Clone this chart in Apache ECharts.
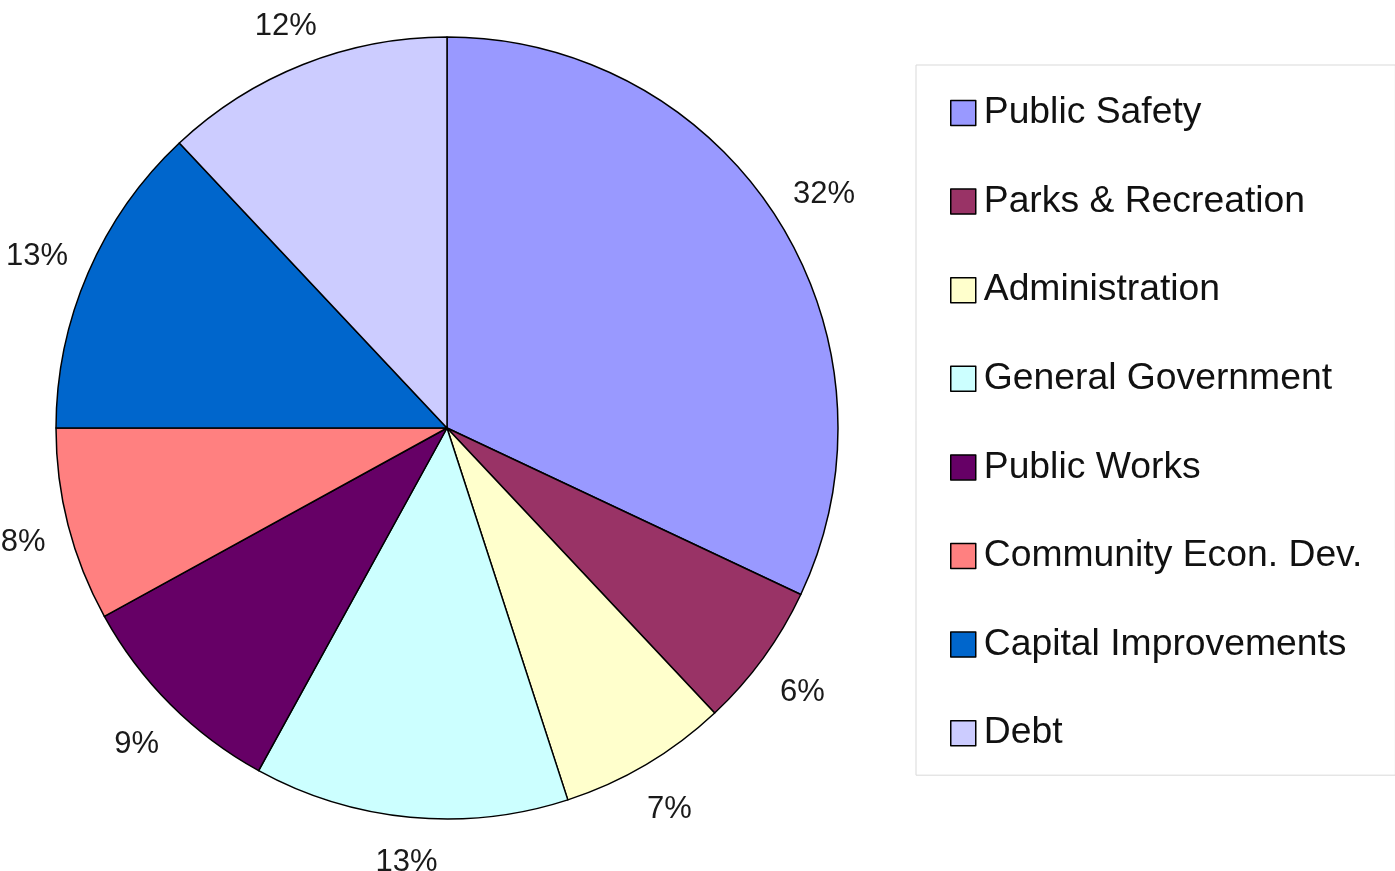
<!DOCTYPE html>
<html>
<head>
<meta charset="utf-8">
<script src="https://cdn.jsdelivr.net/npm/echarts@6/dist/echarts.min.js"></script>
<style>
  html, body { margin: 0; padding: 0; background: #fff; }
  #chart { width: 1395px; height: 871px; }
</style>
</head>
<body>
<div id="chart"></div>
<script>
// Budget share by department (percent)
const categories = [
  'Public Safety',
  'Parks & Recreation',
  'Administration',
  'General Government',
  'Public Works',
  'Community Econ. Dev.',
  'Capital Improvements',
  'Debt'
];
const shares = [32, 6, 7, 13, 9, 8, 13, 12];
const colors = ['#9999FF', '#993366', '#FFFFCC', '#CCFFFF', '#660066', '#FF8080', '#0066CC', '#CCCCFF'];

const FONT = '"Liberation Sans", Arial, Helvetica, sans-serif';
const LABEL_GAP = 21;
const LABEL_DROP = 6;

const chart = echarts.init(document.getElementById('chart'), null, { renderer: 'canvas' });

chart.setOption({
  backgroundColor: '#ffffff',
  animation: false,
  legend: {
    orient: 'vertical',
    left: 916,
    top: 65,
    padding: [28, 33, 22, 34],
    backgroundColor: '#ffffff',
    borderColor: '#d9d9d9',
    borderWidth: 1,
    icon: 'rect',
    itemWidth: 25,
    itemHeight: 25,
    itemGap: 48.6,
    itemStyle: { borderColor: '#000', borderWidth: 1.5 },
    textStyle: {
      fontFamily: FONT,
      fontSize: 37.3,
      lineHeight: 40,
      color: '#111',
      padding: [0, 0, 0, 3]
    },
    data: categories
  },
  series: [{
    type: 'pie',
    center: [447, 428],
    radius: 391,
    startAngle: 90,
    clockwise: true,
    avoidLabelOverlap: false,
    silent: true,
    itemStyle: { borderColor: '#000', borderWidth: 1.5 },
    label: {
      show: true,
      position: 'outside',
      formatter: '{d}%',
      fontFamily: FONT,
      fontSize: 31,
      color: '#1a1a1a'
    },
    labelLine: {
      show: true,
      length: 10,
      length2: 0,
      lineStyle: { width: 0, opacity: 0 }
    },
    // centre each percentage just outside its slice, along the slice's mid direction
    labelLayout: function (params) {
      const pts = params.labelLinePoints;
      if (!pts) return {};
      const p1 = pts[0], p2 = pts[1];
      let dx = p2[0] - p1[0], dy = p2[1] - p1[1];
      const len = Math.sqrt(dx * dx + dy * dy) || 1;
      dx /= len; dy /= len;
      const w = params.labelRect.width, h = params.labelRect.height;
      const extent = Math.abs(dx) * w / 2 + Math.abs(dy) * h / 2;
      const d = LABEL_GAP + extent;
      return {
        x: p1[0] + dx * d,
        y: p1[1] + dy * d + LABEL_DROP,
        align: 'center',
        verticalAlign: 'middle'
      };
    },
    data: categories.map((name, i) => ({
      name: name,
      value: shares[i],
      itemStyle: { color: colors[i] }
    }))
  }]
});
</script>
</body>
</html>
